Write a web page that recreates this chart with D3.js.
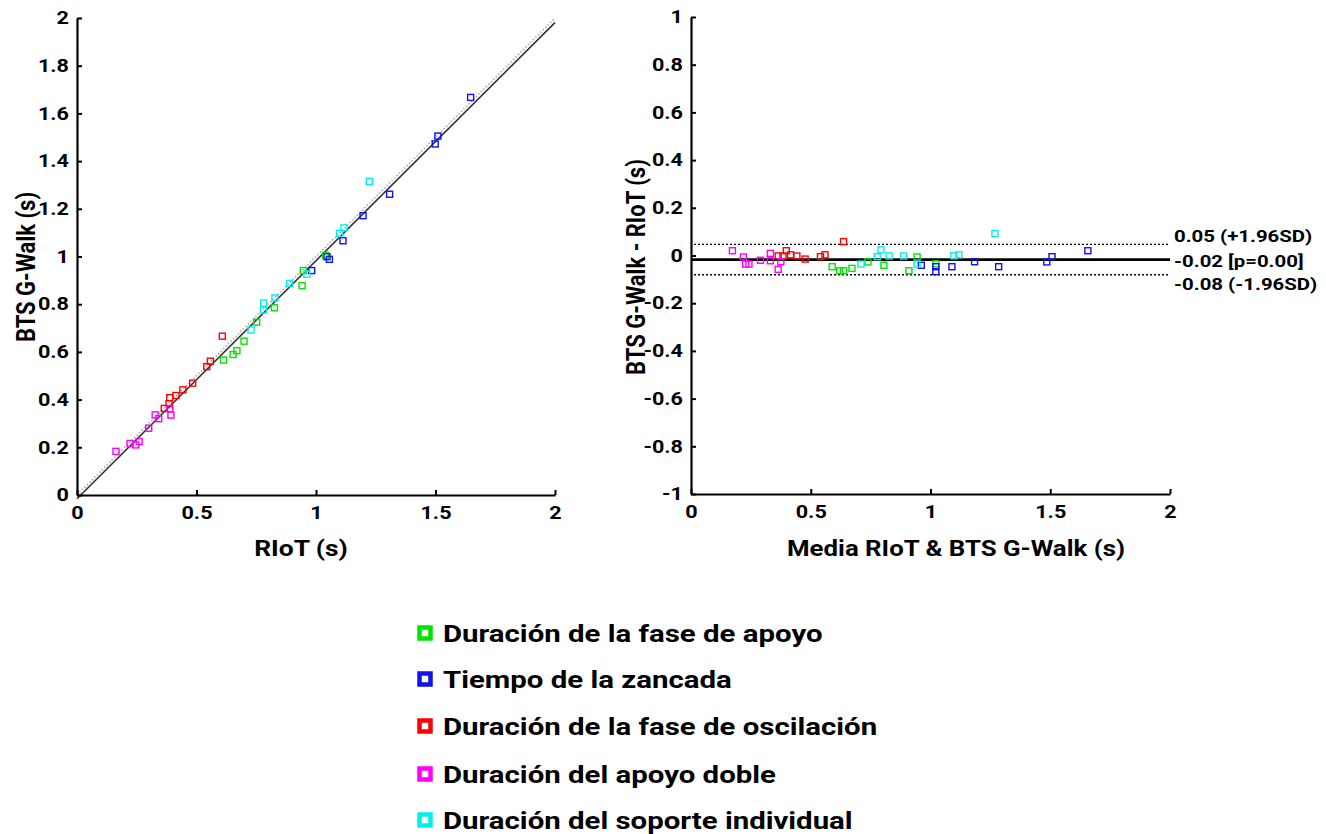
<!DOCTYPE html>
<html>
<head>
<meta charset="utf-8">
<style>
    body { margin: 0; background: #fff; }
    svg text { font-family: Roboto, "Liberation Sans", Arial, sans-serif; font-weight: bold; fill: #000; }
</style>
</head>
<body>
<script src="https://d3js.org/d3.v7.min.js"></script>
<script>

    // series names (legend order) and colours
    var seriesNames = [
        "Duración de la fase de apoyo",
        "Tiempo de la zancada",
        "Duración de la fase de oscilación",
        "Duración del apoyo doble",
        "Duración del soporte individual"
    ];
    var seriesColors = ["#00e400", "#1010f0", "#ff0000", "#ff00ff", "#00f0f0"];

    // RIoT (x) and BTS G-Walk (y) times in seconds, one pair per point
    var riotApoyo = [0.613, 0.653, 0.669, 0.699, 0.752, 0.826, 0.942, 0.947, 1.040];
    var btsApoyo  = [0.566, 0.589, 0.605, 0.645, 0.725, 0.785, 0.878, 0.941, 1.005];

    var riotZancada = [0.982, 1.046, 1.056, 1.113, 1.197, 1.308, 1.499, 1.510, 1.647];
    var btsZancada  = [0.941, 0.999, 0.988, 1.066, 1.171, 1.261, 1.472, 1.505, 1.667];

    var riotOscilacion = [0.365, 0.385, 0.388, 0.414, 0.443, 0.484, 0.543, 0.558, 0.608];
    var btsOscilacion  = [0.363, 0.383, 0.408, 0.417, 0.441, 0.469, 0.538, 0.561, 0.666];

    var riotDoble = [0.163, 0.222, 0.246, 0.260, 0.300, 0.327, 0.342, 0.393, 0.388];
    var btsDoble  = [0.183, 0.216, 0.210, 0.224, 0.280, 0.336, 0.320, 0.335, 0.362];

    var riotIndividual = [0.728, 0.780, 0.781, 0.828, 0.889, 0.962, 1.098, 1.117, 1.223];
    var btsIndividual  = [0.692, 0.775, 0.805, 0.826, 0.887, 0.926, 1.097, 1.120, 1.315];

    // tick labels
    var corrTicks = [0, 0.2, 0.4, 0.6, 0.8, 1, 1.2, 1.4, 1.6, 1.8, 2];
    var xTicks = [0, 0.5, 1, 1.5, 2];
    var diffTicks = [-1, -0.8, -0.6, -0.4, -0.2, 0, 0.2, 0.4, 0.6, 0.8, 1];

    var riotAll = [riotApoyo, riotZancada, riotOscilacion, riotDoble, riotIndividual];
    var btsAll = [btsApoyo, btsZancada, btsOscilacion, btsDoble, btsIndividual];

    var points = [];
    riotAll.forEach(function(arr, s) {
        arr.forEach(function(r, i) {
            var b = btsAll[s][i];
            points.push({ s: s, riot: r, bts: b, mean: (r + b) / 2, diff: b - r });
        });
    });

    var width = 1326, height = 834;
    var svg = d3.select("body").append("svg")
        .attr("width", width)
        .attr("height", height);

    // text in the original is a little wider than the font, stretch it
    var SX = 1.2;

    var fmt = function(d) { return String(+d.toFixed(1)); };

    function styleAxis(g) {
        g.select(".domain").attr("stroke", "#000").attr("stroke-width", 2.2);
        g.selectAll(".tick line").attr("stroke", "#000").attr("stroke-width", 2);
        g.selectAll(".tick text").style("font-size", "18px");
    }

    // stretch tick labels around their anchor point
    function stretchTicks(g) {
        g.selectAll(".tick text").each(function() {
            var t = d3.select(this);
            var tx = +t.attr("x") || 0, ty = +t.attr("y") || 0;
            t.attr("x", null).attr("y", null)
                .attr("transform", "translate(" + tx + "," + ty + ") scale(" + SX + ",1)");
        });
    }

    function label(x, y, size, txt, rotate) {
        return svg.append("text")
            .attr("transform", "translate(" + x + "," + y + ")" +
                (rotate ? " rotate(-90) scale(1," + SX + ")" : " scale(" + SX + ",1)"))
            .attr("text-anchor", "middle")
            .style("font-size", size + "px")
            .text(txt);
    }

    // ---------- correlation plot ----------
    var x1 = d3.scaleLinear().domain([0, 2]).range([77, 555]);
    var y1 = d3.scaleLinear().domain([0, 2]).range([495, 18]);

    // identity line (dotted grey)
    svg.append("line")
        .attr("x1", x1(0)).attr("y1", y1(0))
        .attr("x2", x1(2)).attr("y2", y1(2))
        .attr("stroke", "#aaa")
        .attr("stroke-width", 1.6)
        .attr("stroke-dasharray", "1.5,2");

    // least squares fit (solid)
    var mx = d3.mean(points, function(d) { return d.riot; });
    var my = d3.mean(points, function(d) { return d.bts; });
    var sxy = d3.sum(points, function(d) { return (d.riot - mx) * (d.bts - my); });
    var sxx = d3.sum(points, function(d) { return (d.riot - mx) * (d.riot - mx); });
    var slope = sxy / sxx, icpt = my - slope * mx;
    svg.append("line")
        .attr("x1", x1(0)).attr("y1", y1(icpt))
        .attr("x2", x1(2)).attr("y2", y1(icpt + slope * 2))
        .attr("stroke", "#333")
        .attr("stroke-width", 1.6);

    svg.append("g")
        .attr("transform", "translate(0," + y1(0) + ")")
        .call(d3.axisBottom(x1).tickValues(xTicks).tickFormat(fmt)
            .tickSizeInner(-5).tickSizeOuter(0).tickPadding(11))
        .call(styleAxis)
        .call(stretchTicks);

    svg.append("g")
        .attr("transform", "translate(" + x1(0) + ",0)")
        .call(d3.axisLeft(y1).tickValues(corrTicks).tickFormat(fmt)
            .tickSizeInner(-5).tickSizeOuter(0).tickPadding(8))
        .call(styleAxis)
        .call(stretchTicks);

    svg.append("g").selectAll("rect")
        .data(points)
        .enter().append("rect")
        .attr("x", function(d) { return x1(d.riot) - 3; })
        .attr("y", function(d) { return y1(d.bts) - 3; })
        .attr("width", 6).attr("height", 6)
        .attr("fill", "none")
        .attr("stroke", function(d) { return seriesColors[d.s]; })
        .attr("stroke-width", 1.4);

    label(301, 556, 22, "RIoT (s)");
    label(35, 267, 22, "BTS G-Walk (s)", true);

    // ---------- Bland-Altman plot ----------
    var x2 = d3.scaleLinear().domain([0, 2]).range([691, 1170]);
    var y2 = d3.scaleLinear().domain([-1, 1]).range([494, 17]);

    var diffs = points.map(function(d) { return d.diff; });
    var meanDiff = d3.mean(diffs);
    var sd = d3.deviation(diffs);
    var upper = meanDiff + 1.96 * sd, lower = meanDiff - 1.96 * sd;

    [upper, lower].forEach(function(v) {
        svg.append("line")
            .attr("x1", x2(0) + 3).attr("x2", x2(2))
            .attr("y1", y2(v)).attr("y2", y2(v))
            .attr("stroke", "#000")
            .attr("stroke-width", 1.3)
            .attr("stroke-dasharray", "2,2");
    });
    svg.append("line")
        .attr("x1", x2(0)).attr("x2", x2(2))
        .attr("y1", y2(meanDiff)).attr("y2", y2(meanDiff))
        .attr("stroke", "#000")
        .attr("stroke-width", 2.6);

    svg.append("g")
        .attr("transform", "translate(0," + y2(-1) + ")")
        .call(d3.axisBottom(x2).tickValues(xTicks).tickFormat(fmt)
            .tickSizeInner(-5).tickSizeOuter(0).tickPadding(11))
        .call(styleAxis)
        .call(stretchTicks);

    svg.append("g")
        .attr("transform", "translate(" + x2(0) + ",0)")
        .call(d3.axisLeft(y2).tickValues(diffTicks).tickFormat(fmt)
            .tickSizeInner(-5).tickSizeOuter(0).tickPadding(8))
        .call(styleAxis)
        .call(stretchTicks);

    svg.append("g").selectAll("rect")
        .data(points)
        .enter().append("rect")
        .attr("x", function(d) { return x2(d.mean) - 3; })
        .attr("y", function(d) { return y2(d.diff) - 3; })
        .attr("width", 6).attr("height", 6)
        .attr("fill", "none")
        .attr("stroke", function(d) { return seriesColors[d.s]; })
        .attr("stroke-width", 1.4);

    var notes = [
        { v: upper, t: upper.toFixed(2) + " (+1.96SD)", dy: -8 },
        { v: meanDiff, t: meanDiff.toFixed(2) + " [p=0.00]", dy: 1 },
        { v: lower, t: lower.toFixed(2) + " (-1.96SD)", dy: 9 }
    ];
    svg.append("g").selectAll("text")
        .data(notes)
        .enter().append("text")
        .attr("transform", function(d) {
            return "translate(" + (x2(2) + 4) + "," + (y2(d.v) + d.dy) + ") scale(" + SX + ",1)";
        })
        .attr("dy", "0.35em")
        .style("font-size", "17px")
        .text(function(d) { return d.t; });

    label(956, 556, 21.5, "Media RIoT & BTS G-Walk (s)");
    label(645, 267, 22, "BTS G-Walk - RIoT (s)", true);

    // ---------- legend ----------
    var legendY = [633, 679, 726, 774, 820];
    var legend = svg.append("g").selectAll("g")
        .data(seriesNames)
        .enter().append("g")
        .attr("transform", function(d, i) { return "translate(425," + legendY[i] + ")"; });

    legend.append("rect")
        .attr("x", -5.5).attr("y", -5.5)
        .attr("width", 11).attr("height", 11)
        .attr("fill", "#fff")
        .attr("stroke", function(d, i) { return seriesColors[i]; })
        .attr("stroke-width", 4.5);

    legend.append("text")
        .attr("transform", "translate(18,0) scale(" + SX + ",1)")
        .attr("dy", "0.36em")
        .style("font-size", "24.5px")
        .text(function(d) { return d; });

</script>
</body>
</html>
